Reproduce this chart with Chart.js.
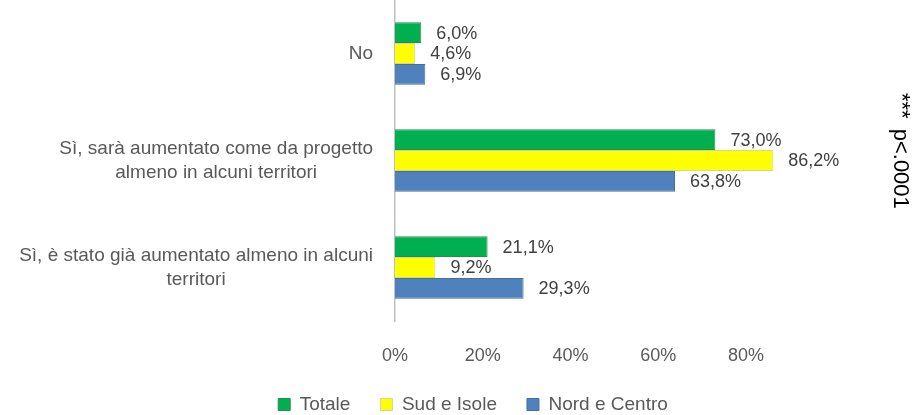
<!DOCTYPE html>
<html>
<head>
<meta charset="utf-8">
<script src="https://cdn.jsdelivr.net/npm/chart.js@4/dist/chart.umd.min.js"></script>
<style>
  html, body { margin: 0; padding: 0; background: #fff; }
  #box { width: 915px; height: 415px; position: relative; }
</style>
</head>
<body>
<div id="box"><canvas id="grafico"></canvas></div>
<script>
var categorie = [
    ['No'],
    ['Sì, sarà aumentato come da progetto', 'almeno in alcuni territori'],
    ['Sì, è stato già aumentato almeno in alcuni', 'territori']
]
var serie = ['Totale', 'Sud e Isole', 'Nord e Centro']
var totale = [6.0, 73.0, 21.1]
var sud = [4.6, 86.2, 9.2]
var nord = [6.9, 63.8, 29.3]
var tick_x = [0, 20, 40, 60, 80]
var nota = 'p<.0001'
var stelle = '***'

var colori = ['#00B050', '#FFFF00', '#4F81BD']
var bordi = ['#2E8B4E', '#D6D68A', '#41719C']
var font = "'Liberation Sans', Arial, sans-serif"

// etichette delle categorie: blocco allineato a destra, righe centrate tra loro
var etichetteY = {
    id: 'etichetteY',
    afterDraw(chart) {
        var ctx = chart.ctx
        var y = chart.scales.y
        ctx.save()
        ctx.font = '19px ' + font
        ctx.fillStyle = '#595959'
        ctx.textBaseline = 'middle'
        ctx.textAlign = 'center'
        var destra = y.right - 22
        for (let i = 0; i < categorie.length; i++) {
            var righe = categorie[i]
            var larg = 0
            righe.forEach(r => { larg = Math.max(larg, ctx.measureText(r).width) })
            var centro = y.getPixelForValue(i)
            var alt = 24
            var inizio = centro - (righe.length - 1) * alt / 2
            for (let k = 0; k < righe.length; k++) {
                ctx.fillText(righe[k], destra - larg / 2, inizio + k * alt)
            }
        }
        ctx.restore()
    }
}

// valori accanto alle barre
var valori = {
    id: 'valori',
    afterDatasetsDraw(chart) {
        var ctx = chart.ctx
        ctx.save()
        ctx.font = '18px ' + font
        ctx.fillStyle = '#404040'
        ctx.textBaseline = 'middle'
        ctx.textAlign = 'left'
        chart.data.datasets.forEach((ds, d) => {
            chart.getDatasetMeta(d).data.forEach((bar, i) => {
                var testo = ds.data[i].toFixed(1).replace('.', ',') + '%'
                ctx.fillText(testo, bar.x + 15, bar.y + 1)
            })
        })
        ctx.restore()
    }
}

// nota ruotata a destra
var notaLaterale = {
    id: 'notaLaterale',
    afterDraw(chart) {
        var ctx = chart.ctx
        ctx.save()
        ctx.translate(901, 93)
        ctx.rotate(Math.PI / 2)
        ctx.fillStyle = '#000'
        ctx.textBaseline = 'middle'
        ctx.textAlign = 'left'
        ctx.font = '22px ' + font
        ctx.fillText(stelle, 0, 0)
        var w = ctx.measureText(stelle).width
        ctx.fillText(nota, w + 10, 1)
        ctx.restore()
    }
}

var ctx = document.getElementById('grafico').getContext('2d')
var myChart = new Chart(ctx, {
    type: 'bar',
    data: {
        labels: categorie.map(c => c.join(' ')),
        datasets: [
            { label: serie[0], data: totale, backgroundColor: colori[0], borderColor: bordi[0], borderWidth: 1 },
            { label: serie[1], data: sud, backgroundColor: colori[1], borderColor: bordi[1], borderWidth: 1 },
            { label: serie[2], data: nord, backgroundColor: colori[2], borderColor: bordi[2], borderWidth: 1 }
        ]
    },
    options: {
        indexAxis: 'y',
        responsive: true,
        maintainAspectRatio: false,
        animation: false,
        categoryPercentage: 0.585,
        barPercentage: 1.0,
        layout: { padding: { left: 156, right: 125, top: -3, bottom: -9 } },
        scales: {
            x: {
                min: 0,
                max: 90,
                afterBuildTicks: (scale) => { scale.ticks = tick_x.map(v => ({ value: v })) },
                afterFit: (scale) => { scale.height = 44 },
                grid: { display: false },
                border: { display: false },
                ticks: {
                    padding: 16,
                    color: '#595959',
                    font: { size: 18, family: font },
                    callback: (v) => v + '%'
                }
            },
            y: {
                grid: { display: false },
                border: { display: true, color: '#BFBFBF', width: 1.5 },
                ticks: { display: false },
                afterFit: (scale) => { scale.width = 239 }
            }
        },
        plugins: {
            legend: {
                position: 'bottom',
                labels: {
                    boxWidth: 12,
                    boxHeight: 12,
                    padding: 30,
                    color: '#595959',
                    font: { size: 19, family: font }
                }
            },
            tooltip: { enabled: false }
        }
    },
    plugins: [etichetteY, valori, notaLaterale]
})
</script>
</body>
</html>
